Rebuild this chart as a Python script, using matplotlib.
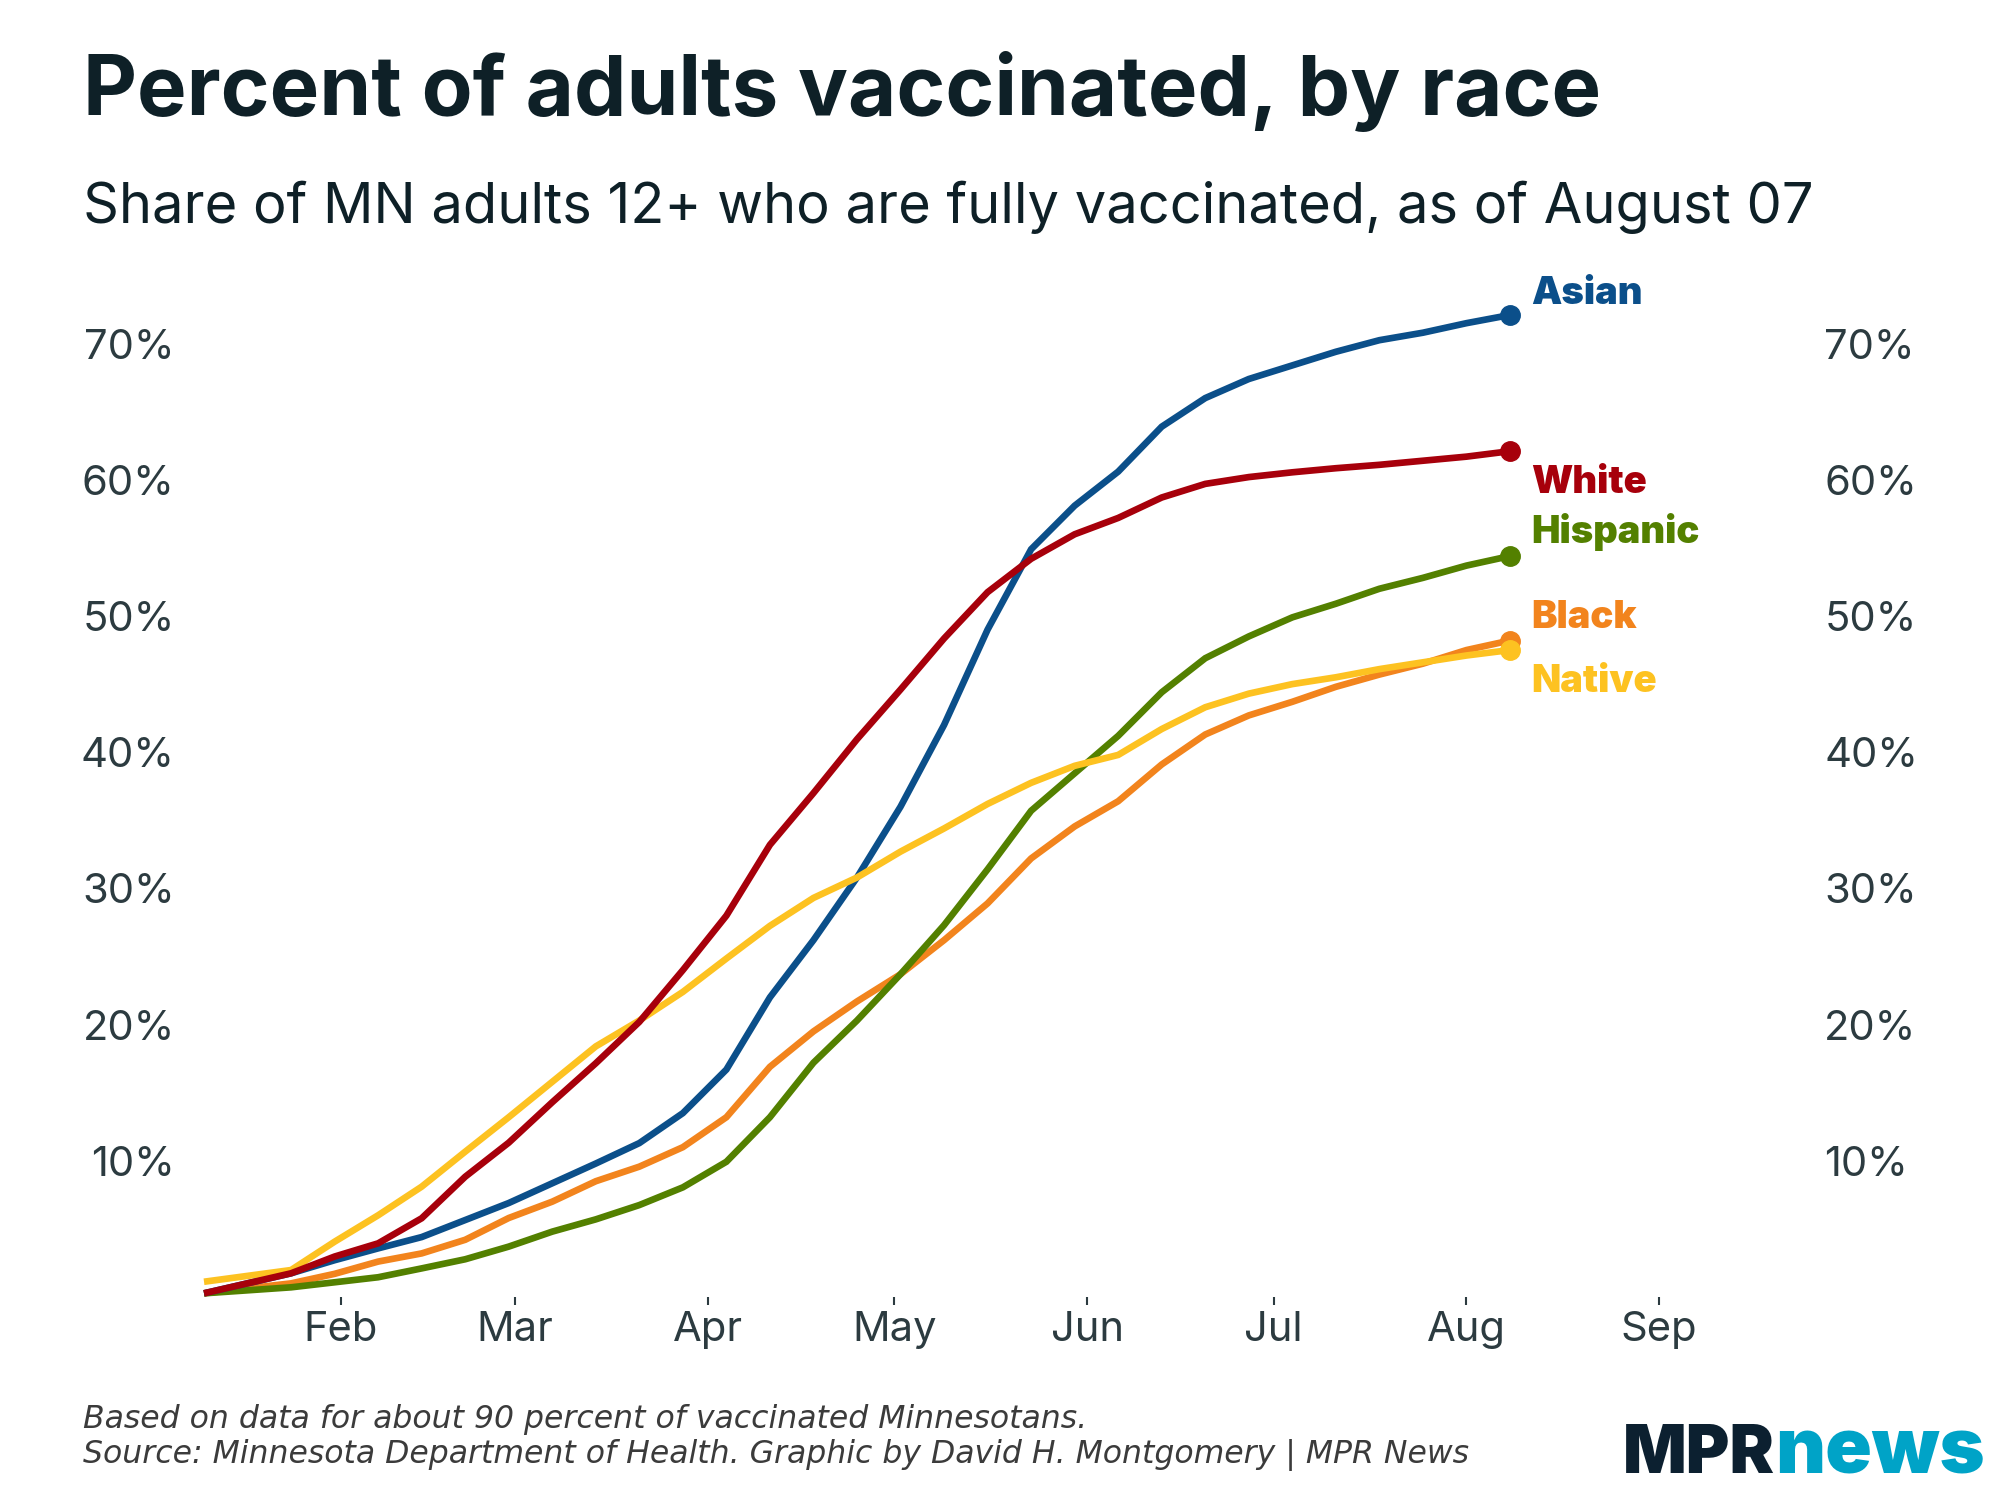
import matplotlib
matplotlib.use("Agg")
import matplotlib.pyplot as plt
import matplotlib.dates as mdates
import numpy as np

# ---------------- data ----------------
dates = ["2021-01-10", "2021-01-24", "2021-01-31", "2021-02-07", "2021-02-14",
         "2021-02-21", "2021-02-28", "2021-03-07", "2021-03-14", "2021-03-21",
         "2021-03-28", "2021-04-04", "2021-04-11", "2021-04-18", "2021-04-25",
         "2021-05-02", "2021-05-09", "2021-05-16", "2021-05-23", "2021-05-30",
         "2021-06-06", "2021-06-13", "2021-06-20", "2021-06-27", "2021-07-04",
         "2021-07-11", "2021-07-18", "2021-07-25", "2021-08-01", "2021-08-08"]

asian = [0.27, 1.74, 2.7, 3.57, 4.4, 5.65, 6.9, 8.35, 9.8, 11.3,
         13.5, 16.7, 22.0, 26.2, 30.8, 36.0, 42.0, 49.0, 54.9, 58.1,
         60.6, 63.9, 66.0, 67.4, 68.4, 69.4, 70.25, 70.8, 71.5, 72.1]
white = [0.27, 1.74, 2.97, 3.94, 5.78, 8.83, 11.33, 14.3, 17.16, 20.2,
         24.0, 28.0, 33.2, 37.0, 40.95, 44.6, 48.35, 51.75, 54.2, 56.0,
         57.2, 58.7, 59.7, 60.2, 60.55, 60.85, 61.1, 61.4, 61.7, 62.1]
hispanic = [0.27, 0.71, 1.08, 1.45, 2.1, 2.77, 3.7, 4.8, 5.7, 6.75,
            8.05, 9.93, 13.2, 17.2, 20.3, 23.7, 27.3, 31.4, 35.7, 38.45,
            41.2, 44.4, 46.9, 48.5, 49.9, 50.9, 52.0, 52.8, 53.7, 54.4]
black = [0.27, 1.0, 1.7, 2.6, 3.2, 4.2, 5.8, 7.0, 8.5, 9.57,
         11.0, 13.2, 16.9, 19.5, 21.7, 23.7, 26.2, 28.9, 32.2, 34.55,
         36.4, 39.1, 41.3, 42.7, 43.7, 44.8, 45.7, 46.5, 47.5, 48.2]
native = [1.12, 1.98, 4.06, 6.0, 8.1, 10.67, 13.2, 15.8, 18.4, 20.3,
          22.4, 24.85, 27.25, 29.3, 30.8, 32.7, 34.4, 36.2, 37.75, 39.0,
          39.8, 41.7, 43.3, 44.3, 45.0, 45.5, 46.1, 46.6, 47.1, 47.5]

month_ticks = ["2021-02-01", "2021-03-01", "2021-04-01", "2021-05-01",
               "2021-06-01", "2021-07-01", "2021-08-01", "2021-09-01"]
month_labels = ["Feb", "Mar", "Apr", "May", "Jun", "Jul", "Aug", "Sep"]
y_ticks = [10, 20, 30, 40, 50, 60, 70]

# series: name, values, colour, label offset (points), draw order
series = [
    ("Black", black, "#f2841d", 16),
    ("Hispanic", hispanic, "#538000", 17),
    ("Asian", asian, "#0b4f8a", 15),
    ("Native", native, "#fdc221", -23),
    ("White", white, "#a7000b", -23),
]

plt.rcParams['font.family'] = ['Inter', 'DejaVu Sans']
TXT = "#0e2027"
TICK = "#2c3b40"

W, H = 2000, 1500
fig = plt.figure(figsize=(20, 15), dpi=100)
fig.patch.set_facecolor("white")

left_px, right_px, zero_px, px_per_pct = 204, 1795, 1297, 13.62
ax = fig.add_axes([left_px / W, (H - zero_px) / H,
                   (right_px - left_px) / W, 75 * px_per_pct / H])

x = mdates.date2num(np.array(dates, dtype="datetime64[D]"))
x0 = mdates.date2num(np.datetime64("2021-01-10"))
px_per_day = 6.219
ax.set_xlim(x0, x0 + (right_px - left_px) / px_per_day)
ax.set_ylim(0, 75)

for name, vals, col, dy in series:
    ax.plot(x, vals, color=col, lw=4.8, solid_joinstyle="miter",
            solid_capstyle="butt", clip_on=False)
    ax.plot(x[-1], vals[-1], "o", color=col, ms=14, clip_on=False)
    ax.annotate(name, (x[-1], vals[-1]), xytext=(15, dy),
                textcoords="offset points", ha="left", va="center",
                fontsize=27.5, fontweight="black", color=col,
                annotation_clip=False)

for s in ax.spines.values():
    s.set_visible(False)

ax.set_xticks(mdates.date2num(np.array(month_ticks, dtype="datetime64[D]")))
ax.set_xticklabels(month_labels)
ax.tick_params(axis="x", length=6, width=1.5, color=TICK, labelsize=30,
               labelcolor=TICK, pad=4)
ax.set_yticks(y_ticks)
ax.set_yticklabels([f"{v}%" for v in y_ticks])
ax.tick_params(axis="y", length=0, labelsize=30, labelcolor=TICK, pad=21,
               labelleft=True, labelright=True)

# ---------------- texts ----------------
fig.text(83 / W, 1 - 115 / H, "Percent of adults vaccinated, by race",
         fontsize=60, fontweight="bold", color=TXT, va="baseline", ha="left")
fig.text(83 / W, 1 - 223 / H,
         "Share of MN adults 12+ who are fully vaccinated, as of August 07",
         fontsize=40.3, color=TXT, va="baseline", ha="left")

fig.text(83 / W, 1 - 1428 / H,
         "Based on data for about 90 percent of vaccinated Minnesotans.",
         fontsize=22.7, style="italic", color="#3b3b3b", va="baseline",
         ha="left", family=["DejaVu Sans"])
fig.text(83 / W, 1 - 1463 / H,
         "Source: Minnesota Department of Health. Graphic by David H. Montgomery | MPR News",
         fontsize=22.7, style="italic", color="#3b3b3b", va="baseline",
         ha="left", family=["DejaVu Sans"])

fig.text(1775 / W, 1 - 1473 / H, "MPR", fontsize=48, fontweight="black",
         color="#0c2030", va="baseline", ha="right")
fig.text(1775 / W, 1 - 1473 / H, "news", fontsize=55.5, fontweight="black",
         color="#00a3c7", va="baseline", ha="left")

fig.savefig("out.png", dpi=100)
